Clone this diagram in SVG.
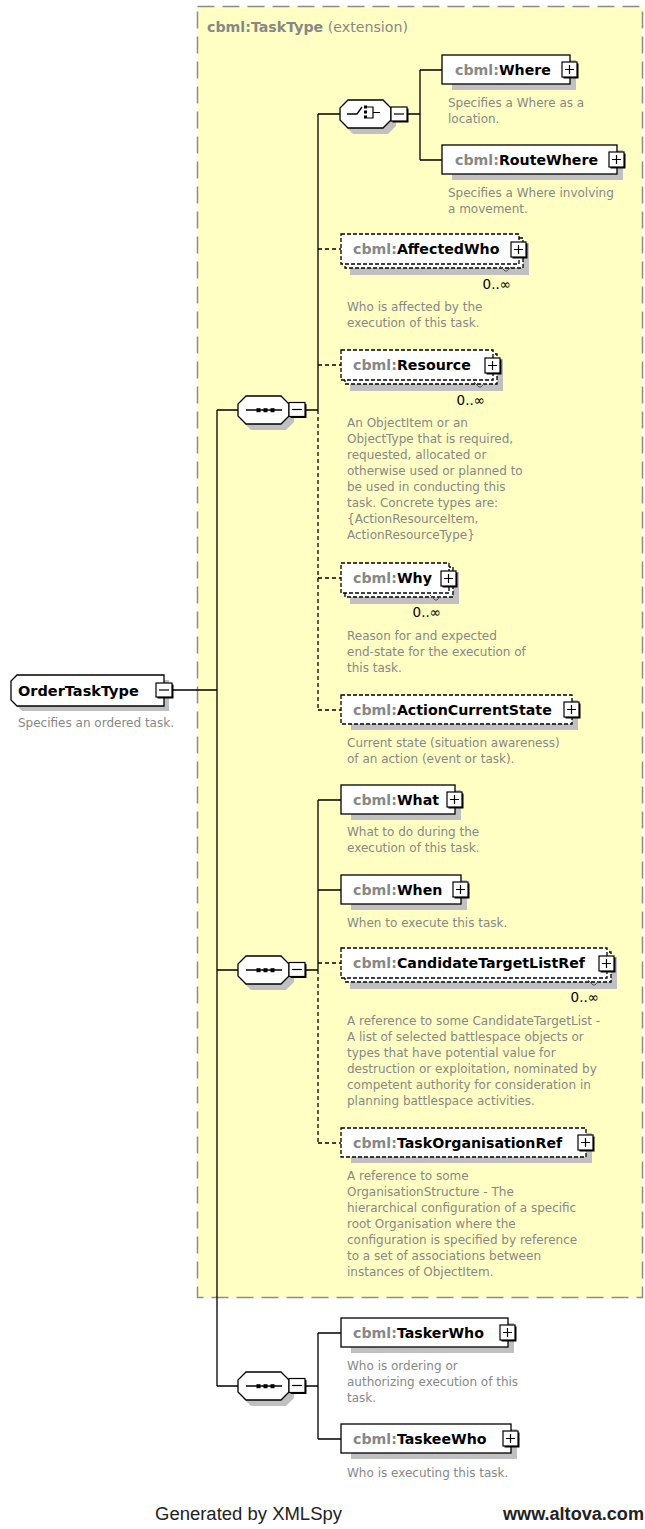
<svg xmlns="http://www.w3.org/2000/svg" xmlns:xlink="http://www.w3.org/1999/xlink" width="645" height="1529" viewBox="0 0 645 1529">
<style>
.desc{font-family:"DejaVu Sans",Verdana,sans-serif;font-size:12px;fill:#878787}
.name{font-family:"DejaVu Sans",Verdana,sans-serif;font-size:14.2px;font-weight:bold;fill:#000}
.ns{fill:#878787}
.ext{font-weight:normal}
.occ{font-family:"DejaVu Sans",Verdana,sans-serif;font-size:13.5px;fill:#000}
.box{fill:#fff;stroke:#000;stroke-width:1.3}
.dbox{fill:#fff;stroke:#000;stroke-width:1.3;stroke-dasharray:4,2}
.shadow{fill:#c0c0c0}
.ln{stroke:#000;stroke-width:1.3;fill:none}
.dln{stroke:#000;stroke-width:1.3;fill:none;stroke-dasharray:4,3}
.hook{stroke:#555;stroke-width:1;fill:none}
.foot{font-family:"Liberation Sans",Arial,sans-serif;font-size:18px;fill:#222}
</style>
<defs>
<g id="plusbox">
<rect x="-6.5" y="-6.5" width="15" height="15" fill="#000"/>
<rect x="-8" y="-8" width="15" height="15" fill="#fff" stroke="#000" stroke-width="1.2"/>
<path d="M-5 -0.5H4M-0.5 -5V4" stroke="#000" stroke-width="1.2"/>
</g>
<g id="minusbox">
<rect x="1.5" y="-6" width="16" height="14" fill="#000"/>
<rect x="0" y="-7.5" width="16" height="14" fill="#fff" stroke="#000" stroke-width="1.2"/>
<path d="M3 -0.5H13" stroke="#000" stroke-width="1.2"/>
</g>
<polygon id="oct" points="8,-14 43,-14 51,-6 51,6 43,14 8,14 0,6 0,-6"/>
<g id="seq">
<use xlink:href="#oct" transform="translate(5,6)" class="shadow"/>
<use xlink:href="#oct" class="box"/>
<path d="M8 0H44" stroke="#000" stroke-width="1.3"/>
<rect x="18.5" y="-1.8" width="4" height="4" fill="#000"/>
<rect x="25.5" y="-1.8" width="4" height="4" fill="#000"/>
<rect x="32.5" y="-1.8" width="4" height="4" fill="#000"/>
<use xlink:href="#minusbox" x="51" y="0"/>
</g>
</defs>

<g id="extension">
<rect x="197.5" y="6.5" width="445" height="1291" fill="#ffffc4" stroke="#8c8c8c" stroke-width="1.5" stroke-dasharray="17,8"/>
<text x="207" y="32" class="name"><tspan class="ns">cbml:TaskType</tspan><tspan class="ns ext"> (extension)</tspan></text>
</g>

<g id="connectors">
<path class="ln" d="M172 690H217M217 410V1386M217 410H238M217 970H238M217 1386H238"/>
<path class="ln" d="M305 410H318M318 114V410M318 114H340"/>
<path class="ln" d="M407 114H420M420 70V160M420 70H442M420 160H442"/>
<path class="dln" d="M318 410V710M318 249H341M318 365H341M318 578H341M318 710H341"/>
<path class="ln" d="M305 970H318M318 800V970M318 800H341M318 890H341"/>
<path class="dln" d="M318 970V1143M318 963H341M318 1143H341"/>
<path class="ln" d="M305 1386H318M318 1333V1439M318 1333H341M318 1439H341"/>
</g>

<g id="OrderTaskType">
<polygon class="shadow" points="22,680 169,680 169,711 22,711 16,705 16,686"/>
<polygon class="box" points="17,675 164,675 164,706 17,706 11,700 11,681"/>
<text x="18" y="696" class="name" style="font-size:14.5px">OrderTaskType</text>
<use xlink:href="#minusbox" x="156" y="690.5"/>
<text x="18" y="727" class="desc">Specifies an ordered task.</text>
</g>

<g id="sequence1"><use xlink:href="#seq" x="238" y="410"/></g>
<g id="sequence2"><use xlink:href="#seq" x="238" y="970"/></g>
<g id="sequence3"><use xlink:href="#seq" x="238" y="1386"/></g>

<g id="choice">
<use xlink:href="#oct" transform="translate(345,120)" class="shadow"/>
<use xlink:href="#oct" transform="translate(340,114)" class="box"/>
<path d="M347 114H357L362 107" stroke="#000" stroke-width="1.3" fill="none"/>
<rect x="364" y="105.5" width="3" height="3" fill="#000"/>
<rect x="364" y="110.5" width="3" height="3" fill="#000"/>
<rect x="364" y="115.5" width="3" height="3" fill="#000"/>
<path d="M367 107H373V118H367M373 112.5H380" stroke="#000" stroke-width="1.2" fill="none"/>
<use xlink:href="#minusbox" x="391" y="114.5"/>
</g>

<g id="Where">
<rect class="shadow" x="452" y="60" width="124" height="30"/>
<rect class="box" x="442" y="55" width="128" height="29"/>
<text x="455" y="75" class="name"><tspan class="ns">cbml:</tspan>Where</text>
<use xlink:href="#plusbox" x="570" y="70"/>
<text class="desc"><tspan x="448" y="107">Specifies a Where as a</tspan><tspan x="448" y="123">location.</tspan></text>
</g>

<g id="RouteWhere">
<rect class="shadow" x="452" y="150" width="171" height="30"/>
<rect class="box" x="442" y="145" width="175" height="29"/>
<text x="455" y="165" class="name"><tspan class="ns">cbml:</tspan>RouteWhere</text>
<use xlink:href="#plusbox" x="617" y="160"/>
<text class="desc"><tspan x="448" y="197">Specifies a Where involving</tspan><tspan x="448" y="213">a movement.</tspan></text>
</g>

<g id="AffectedWho">
<rect class="shadow" x="350" y="243" width="179" height="32"/>
<rect class="dbox" x="345" y="238" width="178" height="30"/>
<rect class="dbox" x="341" y="234" width="178" height="30"/>
<text x="353" y="254" class="name"><tspan class="ns">cbml:</tspan>AffectedWho</text>
<use xlink:href="#plusbox" x="519" y="250"/>
<path class="hook" d="M500 266L505 271H507L511 267"/>
<text x="511" y="289" class="occ" text-anchor="end">0..∞</text>
<text class="desc"><tspan x="347" y="311">Who is affected by the</tspan><tspan x="347" y="327">execution of this task.</tspan></text>
</g>

<g id="Resource">
<rect class="shadow" x="350" y="359" width="153" height="32"/>
<rect class="dbox" x="345" y="354" width="152" height="30"/>
<rect class="dbox" x="341" y="350" width="152" height="30"/>
<text x="353" y="370" class="name"><tspan class="ns">cbml:</tspan>Resource</text>
<use xlink:href="#plusbox" x="493" y="366"/>
<path class="hook" d="M474 382L479 387H481L485 383"/>
<text x="485" y="405" class="occ" text-anchor="end">0..∞</text>
<text class="desc"><tspan x="347" y="427">An ObjectItem or an</tspan><tspan x="347" y="443">ObjectType that is required,</tspan><tspan x="347" y="459">requested, allocated or</tspan><tspan x="347" y="475">otherwise used or planned to</tspan><tspan x="347" y="491">be used in conducting this</tspan><tspan x="347" y="507">task. Concrete types are:</tspan><tspan x="347" y="523">{ActionResourceItem,</tspan><tspan x="347" y="539">ActionResourceType}</tspan></text>
</g>

<g id="Why">
<rect class="shadow" x="350" y="572" width="109" height="32"/>
<rect class="dbox" x="345" y="567" width="108" height="30"/>
<rect class="dbox" x="341" y="563" width="108" height="30"/>
<text x="353" y="583" class="name"><tspan class="ns">cbml:</tspan>Why</text>
<use xlink:href="#plusbox" x="449" y="579"/>
<path class="hook" d="M430 595L435 600H437L441 596"/>
<text x="441" y="617" class="occ" text-anchor="end">0..∞</text>
<text class="desc"><tspan x="347" y="640">Reason for and expected</tspan><tspan x="347" y="656">end-state for the execution of</tspan><tspan x="347" y="672">this task.</tspan></text>
</g>

<g id="ActionCurrentState">
<rect class="shadow" x="351" y="700" width="227" height="30"/>
<rect class="dbox" x="341" y="695" width="231" height="29"/>
<text x="353" y="715" class="name"><tspan class="ns">cbml:</tspan>ActionCurrentState</text>
<use xlink:href="#plusbox" x="572" y="710"/>
<text class="desc"><tspan x="347" y="747">Current state (situation awareness)</tspan><tspan x="347" y="763">of an action (event or task).</tspan></text>
</g>

<g id="What">
<rect class="shadow" x="351" y="790" width="110" height="30"/>
<rect class="box" x="341" y="785" width="114" height="29"/>
<text x="353" y="805" class="name"><tspan class="ns">cbml:</tspan>What</text>
<use xlink:href="#plusbox" x="455" y="800"/>
<text class="desc"><tspan x="347" y="836">What to do during the</tspan><tspan x="347" y="852">execution of this task.</tspan></text>
</g>

<g id="When">
<rect class="shadow" x="351" y="880" width="116" height="30"/>
<rect class="box" x="341" y="875" width="120" height="29"/>
<text x="353" y="895" class="name"><tspan class="ns">cbml:</tspan>When</text>
<use xlink:href="#plusbox" x="461" y="890"/>
<text class="desc"><tspan x="347" y="927">When to execute this task.</tspan></text>
</g>

<g id="CandidateTargetListRef">
<rect class="shadow" x="350" y="957" width="267" height="32"/>
<rect class="dbox" x="345" y="952" width="266" height="30"/>
<rect class="dbox" x="341" y="948" width="266" height="30"/>
<text x="353" y="968" class="name"><tspan class="ns">cbml:</tspan>CandidateTargetListRef</text>
<use xlink:href="#plusbox" x="607" y="964"/>
<path class="hook" d="M588 980L593 985H595L599 981"/>
<text x="599" y="1002" class="occ" text-anchor="end">0..∞</text>
<text class="desc"><tspan x="347" y="1025">A reference to some CandidateTargetList -</tspan><tspan x="347" y="1041">A list of selected battlespace objects or</tspan><tspan x="347" y="1057">types that have potential value for</tspan><tspan x="347" y="1073">destruction or exploitation, nominated by</tspan><tspan x="347" y="1089">competent authority for consideration in</tspan><tspan x="347" y="1105">planning battlespace activities.</tspan></text>
</g>

<g id="TaskOrganisationRef">
<rect class="shadow" x="351" y="1133" width="241" height="30"/>
<rect class="dbox" x="341" y="1128" width="245" height="29"/>
<text x="353" y="1148" class="name"><tspan class="ns">cbml:</tspan>TaskOrganisationRef</text>
<use xlink:href="#plusbox" x="586" y="1143"/>
<text class="desc"><tspan x="347" y="1180">A reference to some</tspan><tspan x="347" y="1196">OrganisationStructure - The</tspan><tspan x="347" y="1212">hierarchical configuration of a specific</tspan><tspan x="347" y="1228">root Organisation where the</tspan><tspan x="347" y="1244">configuration is specified by reference</tspan><tspan x="347" y="1260">to a set of associations between</tspan><tspan x="347" y="1276">instances of ObjectItem.</tspan></text>
</g>

<g id="TaskerWho">
<rect class="shadow" x="351" y="1323" width="163" height="30"/>
<rect class="box" x="341" y="1318" width="167" height="29"/>
<text x="353" y="1338" class="name"><tspan class="ns">cbml:</tspan>TaskerWho</text>
<use xlink:href="#plusbox" x="508" y="1333"/>
<text class="desc"><tspan x="347" y="1370">Who is ordering or</tspan><tspan x="347" y="1386">authorizing execution of this</tspan><tspan x="347" y="1402">task.</tspan></text>
</g>

<g id="TaskeeWho">
<rect class="shadow" x="351" y="1429" width="166" height="30"/>
<rect class="box" x="341" y="1424" width="170" height="29"/>
<text x="353" y="1444" class="name"><tspan class="ns">cbml:</tspan>TaskeeWho</text>
<use xlink:href="#plusbox" x="511" y="1439"/>
<text class="desc"><tspan x="347" y="1477">Who is executing this task.</tspan></text>
</g>

<g id="footer">
<text x="155" y="1520" class="foot" textLength="187" lengthAdjust="spacingAndGlyphs">Generated by XMLSpy</text>
<text x="503" y="1520" class="foot" style="font-weight:bold" textLength="141" lengthAdjust="spacingAndGlyphs">www.altova.com</text>
</g>
</svg>
